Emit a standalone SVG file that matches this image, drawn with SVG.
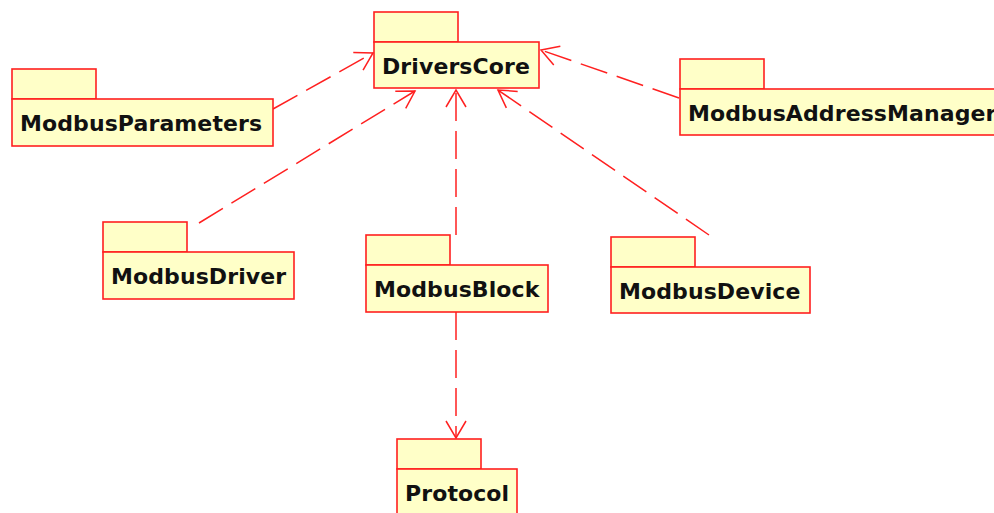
<svg xmlns="http://www.w3.org/2000/svg" width="994" height="513" viewBox="0 0 994 513">
  <style>
    .pkg rect { fill: #ffffc8; stroke: #ff2020; stroke-width: 1.6; }
    .pkg text { font-family: "DejaVu Sans", Verdana, sans-serif; font-weight: bold; font-size: 22px; letter-spacing: 0.1px; fill: #111111; }
    .dep { fill: none; stroke: #ff2020; stroke-width: 1.5; stroke-dasharray: 28 10; marker-end: url(#open); }
  </style>
  <defs>
    <marker id="open" markerUnits="userSpaceOnUse" markerWidth="40" markerHeight="40" viewBox="-20 -20 40 40" refX="0" refY="0" orient="auto">
      <path d="M -17,-10 L 0,0 L -17,10" fill="none" stroke="#ff2020" stroke-width="1.5"/>
    </marker>
  </defs>

  <!-- dependencies -->
  <g id="connectors">
    <line class="dep" x1="273" y1="109" x2="373" y2="53"/>
    <line class="dep" x1="199" y1="223" x2="415" y2="91"/>
    <line class="dep" x1="456" y1="235" x2="456" y2="90"/>
    <line class="dep" x1="709" y1="235" x2="498" y2="90"/>
    <line class="dep" x1="679" y1="98" x2="541" y2="50"/>
    <line class="dep" x1="456" y1="312" x2="456" y2="438"/>
  </g>

  <g id="DriversCore" class="pkg">
    <rect x="374" y="12" width="84" height="30"/>
    <rect x="374" y="42" width="165" height="46"/>
    <text x="382" y="74">DriversCore</text>
  </g>

  <g id="ModbusParameters" class="pkg">
    <rect x="12" y="69" width="84" height="30"/>
    <rect x="12" y="99" width="261" height="47"/>
    <text x="20" y="131">ModbusParameters</text>
  </g>

  <g id="ModbusAddressManager" class="pkg">
    <rect x="680" y="59" width="84" height="30"/>
    <rect x="680" y="89" width="330" height="46"/>
    <text x="688" y="121">ModbusAddressManager</text>
  </g>

  <g id="ModbusDriver" class="pkg">
    <rect x="103" y="222" width="84" height="30"/>
    <rect x="103" y="252" width="191" height="47"/>
    <text x="111" y="284">ModbusDriver</text>
  </g>

  <g id="ModbusBlock" class="pkg">
    <rect x="366" y="235" width="84" height="30"/>
    <rect x="366" y="265" width="182" height="47"/>
    <text x="374" y="297">ModbusBlock</text>
  </g>

  <g id="ModbusDevice" class="pkg">
    <rect x="611" y="237" width="84" height="30"/>
    <rect x="611" y="267" width="199" height="46"/>
    <text x="619" y="299">ModbusDevice</text>
  </g>

  <g id="Protocol" class="pkg">
    <rect x="397" y="439" width="84" height="30"/>
    <rect x="397" y="469" width="120" height="47"/>
    <text x="405" y="501">Protocol</text>
  </g>
</svg>
